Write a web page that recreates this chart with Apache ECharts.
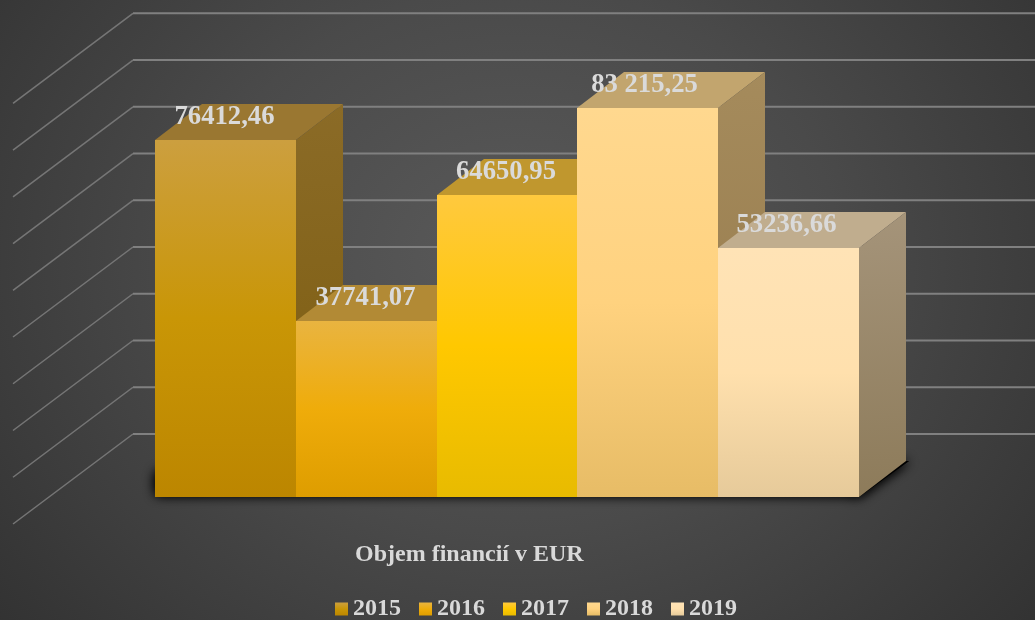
<!DOCTYPE html>
<html>
<head>
<meta charset="utf-8">
<style>
html,body{margin:0;padding:0;width:1035px;height:620px;overflow:hidden;background:#333}
#c{width:1035px;height:620px;background:radial-gradient(ellipse 74% 105% at 50% 42%, #5a5a5a 0%, #4a4a4a 42%, #2c2c2c 100%)}
</style>
<script src="https://cdn.jsdelivr.net/npm/echarts@6/dist/echarts.min.js"></script>
</head>
<body>
<div id="c"></div>
<script>
const categories = ['Objem financií v EUR'];
const years = ['2015', '2016', '2017', '2018', '2019'];
const values = [76412.46, 37741.07, 64650.95, 83215.25, 53236.66];
const valueLabels = ['76412,46', '37741,07', '64650,95', '83 215,25', '53236,66'];
const axisTicks = [0, 10000, 20000, 30000, 40000, 50000, 60000, 70000, 80000, 90000];

const FONT = '"Liberation Serif","Times New Roman",serif';
const DX = 47, DY = 36;
const labelNudge = [-1, -1, -1, -3, -2];
const grad = (stops, x2, y2) => new echarts.graphic.LinearGradient(0, 0, x2 === undefined ? 0 : x2, y2 === undefined ? 1 : y2,
  stops.map((c, i) => ({ offset: i / (stops.length - 1), color: c })));

const front = [
  ['#cc9f3f', '#c99606', '#bc8600'],
  ['#e9b440', '#efac0a', '#de9d00'],
  ['#ffc93e', '#ffc800', '#e8bb00'],
  ['#ffd88f', '#ffd27f', '#e7bc66'],
  ['#ffe3b6', '#ffe0ad', '#e6ca9a']
];
const topFace = ['#9a7731', '#b28a35', '#c0972e', '#c2a56e', '#c0ad8e'];
const side = [
  ['#8b6b27', '#7c5c0e'],
  ['#8f6b10', '#856208'],
  ['#a07d18', '#957300'],
  ['#a58b5c', '#94784a'],
  ['#a5947a', '#8d7b5a']
];

function barItem(i) {
  return function (params, api) {
    const base = api.coord([0, 0]);
    const top = api.coord([0, api.value(1)]);
    const band = api.size([1, 0])[0];
    const w = band / years.length;
    const x0 = Math.round(base[0] - band / 2 + i * w);
    const x1 = Math.round(base[0] - band / 2 + (i + 1) * w);
    const yT = Math.round(top[1]), yB = Math.round(base[1]);
    const children = [
      { type: 'polygon', shape: { points: [[x0, yT], [x1, yT], [x1 + DX, yT - DY], [x0 + DX, yT - DY]] },
        style: { fill: topFace[i] } },
      { type: 'polygon', shape: { points: [[x1, yT], [x1 + DX, yT - DY], [x1 + DX, yB - DY], [x1, yB]] },
        style: { fill: grad(side[i], 0.4, 1) } },
      { type: 'rect', shape: { x: x0, y: yT, width: x1 - x0, height: yB - yT },
        style: { fill: grad(front[i]) } },
      { type: 'text', style: { x: (x0 + x1) / 2 + labelNudge[i], y: yT - 23, text: valueLabels[i],
          align: 'center', verticalAlign: 'middle', fill: '#dadada',
          font: 'bold 26.7px ' + FONT } }
    ];
    return { type: 'group', children };
  };
}

const gridSeries = {
  type: 'custom', silent: true, clip: false, z: 1, legendHoverLink: false,
  data: axisTicks.map(v => [0, v]),
  encode: { x: 0, y: 1 },
  renderItem(params, api) {
    const p = api.coord([0, api.value(1)]);
    const band = api.size([1, 0])[0];
    const left = p[0] - band / 2;
    const style = { stroke: '#808080', lineWidth: 2, fill: null };
    return { type: 'group', children: [
      { type: 'line', shape: { x1: left - 22, y1: p[1] - 63, x2: 1035, y2: p[1] - 63 }, style },
      { type: 'line', shape: { x1: left - 22, y1: p[1] - 63, x2: left - 142, y2: p[1] + 27 },
        style: { stroke: '#767676', lineWidth: 1.5, fill: null } }
    ] };
  }
};

const shadowSeries = {
  type: 'custom', silent: true, clip: false, z: 2, legendHoverLink: false,
  data: [[0, 0]],
  encode: { x: 0, y: 1 },
  renderItem(params, api) {
    const p = api.coord([0, 0]);
    const band = api.size([1, 0])[0];
    const l = p[0] - band / 2, r = p[0] + band / 2, y = p[1];
    const shape = { points: [[l, y - 24], [l + 1, y - 2], [r - 14, y - 2], [r, y], [r + DX + 3, y - DY], [l + DX, y - DY]] };
    const style = { fill: 'rgba(0,0,0,0.9)', shadowBlur: 12, shadowColor: 'rgba(0,0,0,1)' };
    return { type: 'group', children: [
      { type: 'polygon', shape, style },
      { type: 'polygon', shape, style }
    ] };
  }
};

const barSeries = years.map((name, i) => ({
  name, type: 'custom', clip: false, z: 3,
  itemStyle: { color: grad(front[i]) },
  data: [[0, values[i]]],
  encode: { x: 0, y: 1 },
  renderItem: barItem(i)
}));

const chart = echarts.init(document.getElementById('c'), null, { renderer: 'canvas' });
chart.setOption({
  animation: false,
  backgroundColor: 'transparent',
  grid: { left: 155, right: 176, top: 76.3, bottom: 123 },
  xAxis: { type: 'category', data: categories, show: false },
  yAxis: { type: 'value', min: 0, max: 90000, interval: 10000, show: false },
  title: { text: categories[0], left: 355, top: 543, padding: 0,
    textStyle: { color: '#d9d9d9', fontFamily: FONT, fontWeight: 'bold', fontSize: 24 } },
  legend: { data: years, left: 335, top: 597, padding: 0, itemWidth: 13, itemHeight: 13, itemGap: 18,
    icon: 'rect', selectedMode: false,
    textStyle: { color: '#d9d9d9', fontFamily: FONT, fontWeight: 'bold', fontSize: 24 } },
  series: [gridSeries, shadowSeries, ...barSeries]
});
</script>
</body>
</html>
